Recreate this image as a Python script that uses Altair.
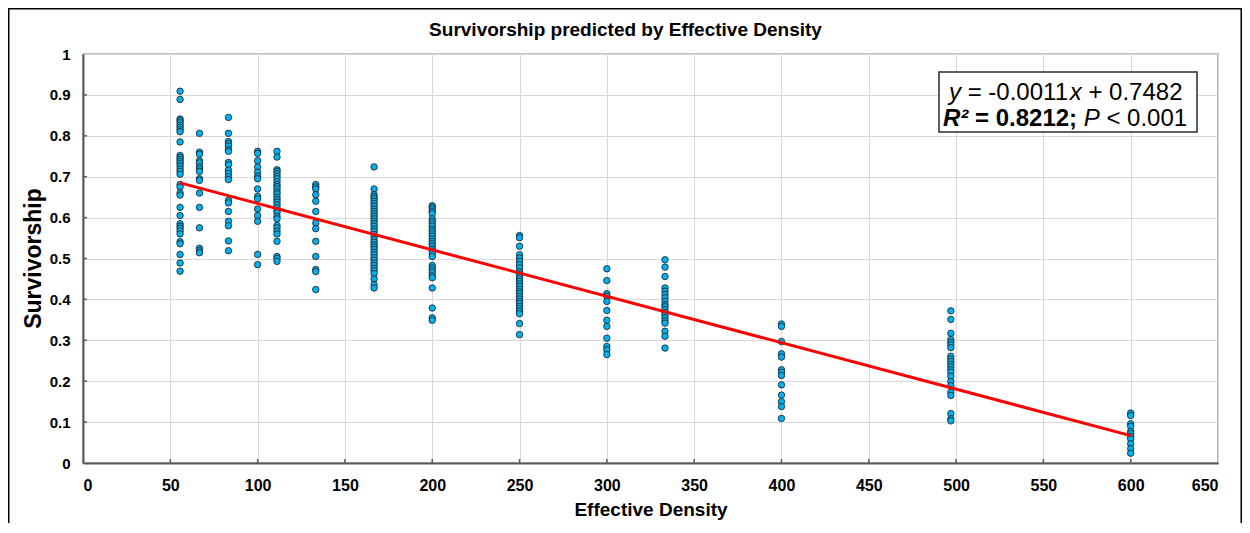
import altair as alt
import pandas as pd

FONT = "Liberation Sans"

# ---------------- data ----------------
density_levels = [55.6, 66.7, 83.3, 100, 111.1, 133.3, 166.7, 200, 250, 300, 333.3, 400, 497, 600]

surv_55 = [0.909, 0.889, 0.841, 0.837, 0.832, 0.826, 0.821, 0.815, 0.810, 0.785, 0.752, 0.747,
           0.742, 0.737, 0.732, 0.726, 0.719, 0.713, 0.706, 0.681, 0.675, 0.660, 0.655, 0.625,
           0.605, 0.585, 0.579, 0.574, 0.567, 0.560, 0.541, 0.536, 0.510, 0.489, 0.469]
surv_67 = [0.806, 0.760, 0.755, 0.739, 0.734, 0.724, 0.719, 0.713, 0.695, 0.691, 0.660, 0.625,
           0.575, 0.525, 0.519, 0.514]
surv_83 = [0.845, 0.806, 0.786, 0.781, 0.775, 0.766, 0.762, 0.735, 0.729, 0.716, 0.708, 0.700,
           0.693, 0.642, 0.636, 0.615, 0.591, 0.580, 0.543, 0.519]
surv_100 = [0.762, 0.757, 0.739, 0.724, 0.711, 0.701, 0.695, 0.670, 0.652, 0.646, 0.621, 0.605,
            0.591, 0.510, 0.485]
surv_111 = [0.762, 0.748, 0.717, 0.713, 0.707, 0.701, 0.695, 0.688, 0.681, 0.676, 0.670, 0.663,
            0.658, 0.650, 0.644, 0.638, 0.631, 0.624, 0.617, 0.612, 0.603, 0.597, 0.581, 0.575,
            0.567, 0.560, 0.542, 0.505, 0.500, 0.493]
surv_133 = [0.681, 0.675, 0.670, 0.656, 0.640, 0.615, 0.587, 0.573, 0.542, 0.505, 0.473, 0.468, 0.424]
surv_167 = [0.724, 0.670, 0.656, 0.651, 0.646, 0.640, 0.634, 0.628, 0.621, 0.615, 0.609, 0.603,
            0.597, 0.591, 0.585, 0.579, 0.572, 0.566, 0.559, 0.553, 0.546, 0.540, 0.533, 0.528,
            0.522, 0.515, 0.509, 0.502, 0.496, 0.489, 0.483, 0.476, 0.470, 0.463, 0.450, 0.436, 0.428]
surv_200 = [0.629, 0.625, 0.620, 0.615, 0.610, 0.597, 0.591, 0.585, 0.579, 0.572, 0.567, 0.561,
            0.555, 0.548, 0.542, 0.536, 0.530, 0.523, 0.518, 0.512, 0.505, 0.483, 0.477, 0.471,
            0.465, 0.458, 0.453, 0.428, 0.379, 0.355, 0.349]
surv_250 = [0.556, 0.551, 0.530, 0.509, 0.501, 0.493, 0.485, 0.477, 0.468, 0.463, 0.456, 0.450,
            0.444, 0.438, 0.432, 0.425, 0.419, 0.414, 0.407, 0.401, 0.395, 0.390, 0.383, 0.377,
            0.371, 0.365, 0.341, 0.314]
surv_300 = [0.475, 0.446, 0.414, 0.408, 0.395, 0.373, 0.349, 0.334, 0.305, 0.285, 0.277, 0.265]
surv_333 = [0.497, 0.479, 0.456, 0.428, 0.420, 0.412, 0.404, 0.395, 0.387, 0.382, 0.375, 0.368,
            0.362, 0.355, 0.348, 0.342, 0.322, 0.310, 0.281]
surv_400 = [0.340, 0.334, 0.297, 0.267, 0.259, 0.228, 0.222, 0.214, 0.191, 0.166, 0.150, 0.138, 0.109]
surv_497 = [0.372, 0.351, 0.317, 0.302, 0.295, 0.289, 0.282, 0.261, 0.254, 0.248, 0.241, 0.235,
            0.228, 0.222, 0.212, 0.199, 0.189, 0.173, 0.165, 0.121, 0.108, 0.103]
surv_600 = [0.122, 0.116, 0.096, 0.090, 0.077, 0.072, 0.065, 0.059, 0.047, 0.035, 0.024]

survival_lists = [surv_55, surv_67, surv_83, surv_100, surv_111, surv_133, surv_167,
                  surv_200, surv_250, surv_300, surv_333, surv_400, surv_497, surv_600]

# fitted trend line end points
fit_x = [55.6, 600]
fit_y = [0.685, 0.067]

x_ticks = [0, 50, 100, 150, 200, 250, 300, 350, 400, 450, 500, 550, 600, 650]
y_ticks = [0, 0.1, 0.2, 0.3, 0.4, 0.5, 0.6, 0.7, 0.8, 0.9, 1.0]

title_text = "Survivorship predicted by Effective Density"
x_title = "Effective Density"
y_title = "Survivorship"

# ---------------- tables ----------------
rows = []
for d, vals in zip(density_levels, survival_lists):
    for v in vals:
        rows.append({"x": d, "y": v})
points_df = pd.DataFrame(rows)
fit_df = pd.DataFrame({"x": fit_x, "y": fit_y})

W, H = 1135, 409

xscale = alt.Scale(domain=[0, 650], nice=False, zero=False)
yscale = alt.Scale(domain=[0, 1], nice=False)

points = alt.Chart(points_df).mark_circle(
    size=42, color="#00b0f0", opacity=1, stroke="#1b1b1b", strokeWidth=0.8
).encode(
    x=alt.X("x:Q", scale=xscale,
            axis=alt.Axis(values=x_ticks, title=None, format="d", labelFontSize=16,
                          labelPadding=14)),
    y=alt.Y("y:Q", scale=yscale,
            axis=alt.Axis(values=y_ticks, title=None, format=".1~f", labelFontSize=15,
                          labelPadding=13)),
)

fit_line = alt.Chart(fit_df).mark_line(color="#ff0000", strokeWidth=3).encode(
    x="x:Q", y="y:Q"
)

xt_df = pd.DataFrame({"x": x_ticks[1:-1]})
yt_df = pd.DataFrame({"y": y_ticks[1:-1]})
x_tick_marks = alt.Chart(xt_df).mark_rule(color="#5a5a5a", strokeWidth=1.5).encode(
    x="x:Q", y=alt.value(H - 4), y2=alt.value(H)
)
y_tick_marks = alt.Chart(yt_df).mark_rule(color="#5a5a5a", strokeWidth=1.5).encode(
    y="y:Q", x=alt.value(0), x2=alt.value(4)
)

one = pd.DataFrame({"k": [0]})


def txt(s, x, y, size, weight="normal", style="normal", align="left",
        baseline="alphabetic", angle=0):
    kw = dict(font=FONT, fontSize=size, fontWeight=weight, fontStyle=style,
              align=align, baseline=baseline, color="black")
    if angle:
        kw["angle"] = angle
    return alt.Chart(pd.DataFrame({"t": [s]})).mark_text(**kw).encode(
        text="t:N", x=alt.value(x), y=alt.value(y)
    )


# annotation box
box = alt.Chart(one).mark_rect(fill="white", stroke="#2b2b2b", strokeWidth=1.5).encode(
    x=alt.value(856), x2=alt.value(1114), y=alt.value(18), y2=alt.value(78)
)
FS = 24
l1x, l1y = 866, 45.5
l2x, l2y = 860, 71.5
ann = [
    txt("y", l1x, l1y, FS, style="italic"),
    txt("= -0.0011", l1x + 0.778 * FS, l1y, FS),
    txt("x", l1x + 5.031 * FS, l1y, FS, style="italic"),
    txt("+ 0.7482", l1x + 5.809 * FS, l1y, FS),
    txt("R²", l2x, l2y, FS, weight="bold", style="italic"),
    txt("= 0.8212;", l2x + 1.333 * FS, l2y, FS, weight="bold"),
    txt("P", l2x + 5.864 * FS, l2y, FS, style="italic"),
    txt("< 0.001", l2x + 6.809 * FS, l2y, FS),
]

# outer frame of the whole chart
frame = alt.Chart(one).mark_rect(fill=None, stroke="black", strokeWidth=1.5).encode(
    x=alt.value(-74.25), x2=alt.value(1158.25), y=alt.value(-45.25), y2=alt.value(490)
)

titles = [
    txt(title_text, 542.5, -18.5, 19, weight="bold", align="center"),
    txt(x_title, 568, 462, 19, weight="bold", align="center"),
    txt(y_title, -49, 204.5, 23, weight="bold", align="center", baseline="middle", angle=270),
]

chart = alt.layer(
    points, fit_line, x_tick_marks, y_tick_marks, box, *ann, frame, *titles
).properties(
    width=W, height=H,
    autosize=alt.AutoSizeParams(type="none"),
    padding={"left": 75, "top": 46, "right": 24, "bottom": 60},
    background="white",
).configure(
    font=FONT,
).configure_view(
    stroke="black", strokeWidth=1.2, clip=False
).configure_axis(
    labelFont=FONT, labelFontWeight="bold", labelColor="black",
    ticks=False, tickSize=0,
    domain=True, domainColor="#5a5a5a", domainWidth=2,
    grid=True, gridColor="#d9d9d9", gridWidth=1,
)

chart.save("out.html", embed_options={"renderer": "svg", "actions": False})
